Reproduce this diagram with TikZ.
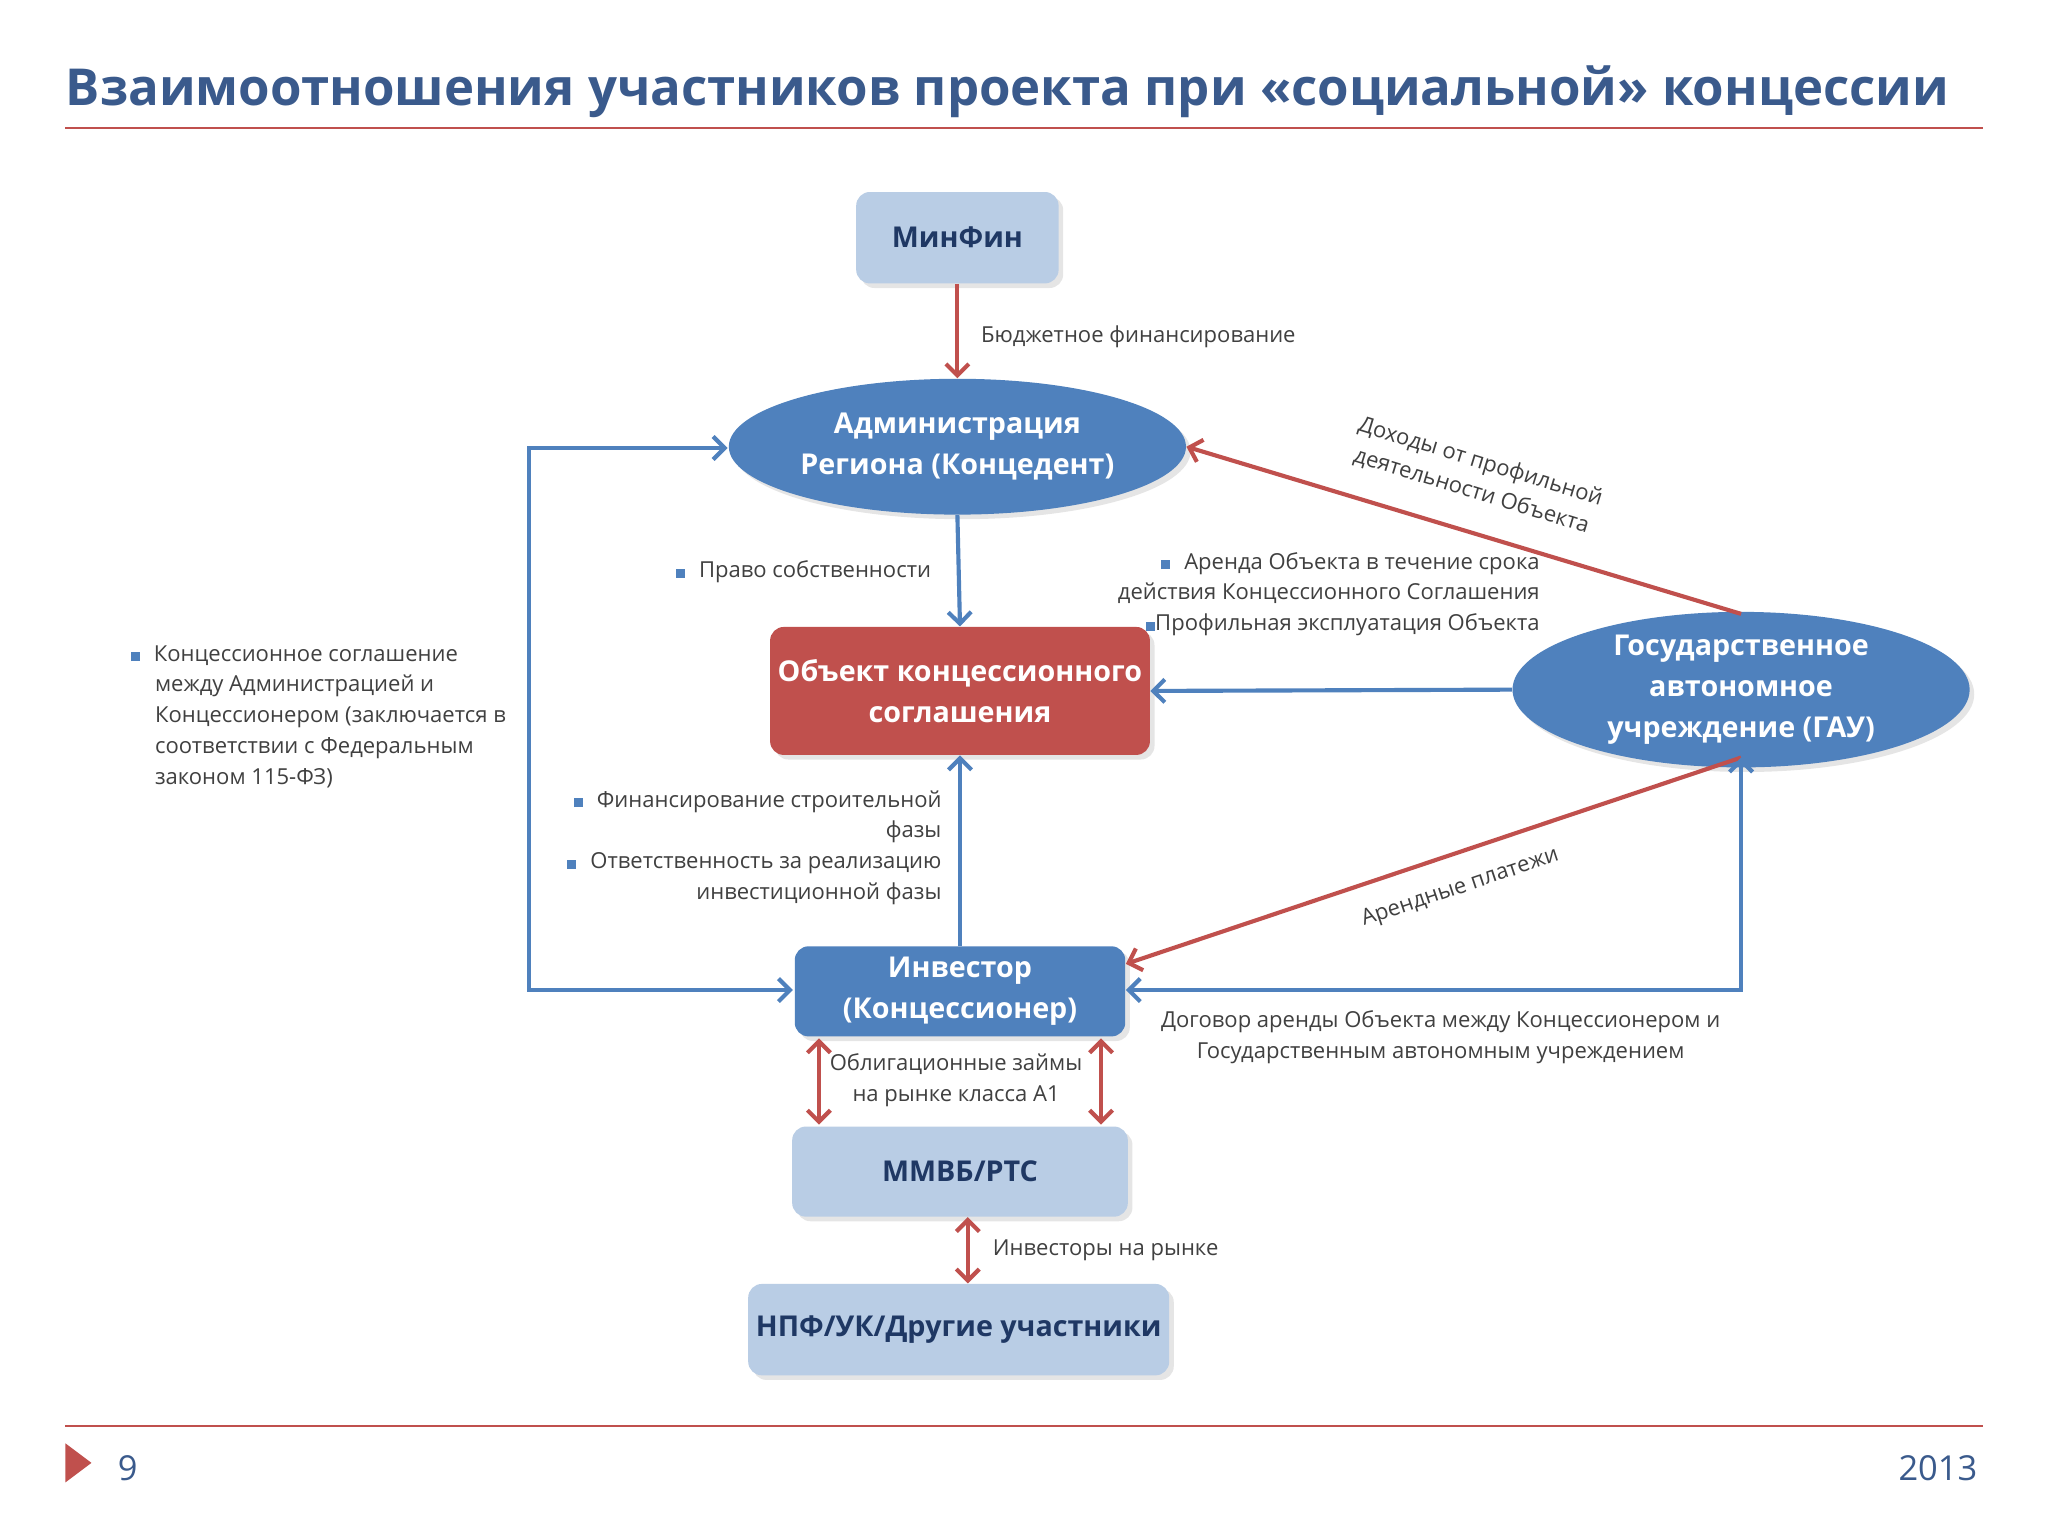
\documentclass[tikz,border=0pt]{standalone}
\usepackage{fontspec}
\setmainfont{Open Sans}
\usetikzlibrary{shapes.geometric,shadows,arrows.meta}
\definecolor{tblue}{HTML}{3A5A8C}
\definecolor{dblue}{HTML}{1F3864}
\definecolor{lblue}{HTML}{B9CDE5}
\definecolor{mblue}{HTML}{4F81BD}
\definecolor{rred}{HTML}{C0504D}
\definecolor{txt}{HTML}{404040}
\newcommand{\bul}{{\color{mblue}\rule{0.75ex}{0.75ex}}\hspace{1.2ex}}
\tikzset{
 shad/.style={drop shadow={opacity=0.2,shadow xshift=2pt,shadow yshift=-2pt}},
 lbox/.style={rectangle,rounded corners=6pt,fill=lblue,text=dblue,font=\fontsize{12.5}{15}\selectfont\bfseries,shad},
 dbox/.style={rectangle,rounded corners=6pt,fill=mblue,text=white,font=\fontsize{12.5}{18}\selectfont\bfseries,align=center,shad},
 ell/.style={ellipse,fill=mblue,text=white,font=\fontsize{12.5}{18}\selectfont\bfseries,align=center,shad,inner sep=0pt},
 lab/.style={font=\fontsize{9.6}{13.4}\selectfont,text=txt},
 rarr/.style={draw=rred,line width=1.8pt,-{Straight Barb[length=5pt,width=10pt]}},
 rdarr/.style={draw=rred,line width=1.8pt,{Straight Barb[length=5pt,width=10pt]}-{Straight Barb[length=5pt,width=10pt]}},
 barr/.style={draw=mblue,line width=1.8pt,-{Straight Barb[length=5pt,width=10pt]}},
 bdarr/.style={draw=mblue,line width=1.8pt,{Straight Barb[length=5pt,width=10pt]}-{Straight Barb[length=5pt,width=10pt]}},
}
\begin{document}
\begin{tikzpicture}[x=0.02cm,y=-0.02cm]
\useasboundingbox[fill=white] (0,0) rectangle (1568,1176);
\node[anchor=west,text=tblue,font=\fontsize{22.2}{27}\selectfont\bfseries,inner sep=0] (title) at (50,70) {Взаимоотношения участников проекта при «социальной» концессии};
\draw[rred,line width=0.8pt] (50,98) -- (1518,98);
% nodes
\node[lbox,minimum width=155*0.02cm,minimum height=70*0.02cm] (mf) at (733,182) {МинФин};
\node[ell,minimum width=350*0.02cm,minimum height=104*0.02cm] (adm) at (733,342) {Администрация\\Региона (Концедент)};
\node[dbox,fill=rred,minimum width=284*0.02cm,minimum height=98*0.02cm] (obj) at (735,529) {Объект концессионного\\соглашения};
\node[ell,minimum width=350*0.02cm,minimum height=110*0.02cm] (gau) at (1333,528) {Государственное\\автономное\\учреждение (ГАУ)};
\node[dbox,minimum width=253*0.02cm,minimum height=69*0.02cm] (inv) at (735,759) {Инвестор\\(Концессионер)};
\node[lbox,minimum width=257*0.02cm,minimum height=69*0.02cm] (mm) at (735,897) {ММВБ/РТС};
\node[lbox,minimum width=312*0.02cm,minimum height=70*0.02cm] (npf) at (734,1018) {НПФ/УК/Другие участники};
% arrows
\draw[rarr] (mf.south) -- (adm.north);
\node[lab,anchor=west] (l1) at (745,258) {Бюджетное финансирование};
\draw[barr] (adm.south) -- (obj.north);
\node[lab,anchor=east] (l2) at (719,438) {\bul Право собственности};
\draw[barr] (gau.west) -- (obj.east);
\node[lab,anchor=south east,align=right] (l3) at (1185,493) {\bul Аренда Объекта в течение срока\\действия Концессионного Соглашения\\{\color{mblue}\rule{0.75ex}{0.75ex}}Профильная эксплуатация Объекта};
\coordinate (gt) at (1333,470);
\draw[rarr] (gt) -- (adm.east);
\node[lab,align=center,rotate=-17] (l4) at (1130,365) {Доходы от профильной\\деятельности Объекта};
\draw[barr] (inv.north) -- (obj.south);
\node[lab,anchor=east,align=right] (l5) at (727,649) {\bul Финансирование строительной\\фазы\\\bul Ответственность за реализацию\\инвестиционной фазы};
\coordinate (gb) at (1333,580);
\draw[rarr] (gb) -- (862,738);
\node[lab,rotate=18.5] (l6) at (1118,680) {Арендные платежи};
\coordinate (ie) at (862,758);
\draw[bdarr] (ie) -- (1333,758) -- (gb);
\node[lab,align=center] (l7) at (1103,794) {Договор аренды Объекта между Концессионером и\\Государственным автономным учреждением};
\coordinate (la) at (557,343);
\coordinate (li) at (607,758);
\draw[bdarr] (la) -- (405,343) -- (405,758) -- (li);
\node[lab,anchor=north west,align=left] (l8) at (94,488) {\bul Концессионное соглашение\\\hspace*{2.05ex}между Администрацией и\\\hspace*{2.05ex}Концессионером (заключается в\\\hspace*{2.05ex}соответствии с Федеральным\\\hspace*{2.05ex}законом 115-ФЗ)};
\coordinate (a1) at (627,795); \coordinate (a2) at (627,861);
\coordinate (b1) at (843,795); \coordinate (b2) at (843,861);
\draw[rdarr] (a1) -- (a2);
\draw[rdarr] (b1) -- (b2);
\node[lab,align=center] (l9) at (732,827) {Облигационные займы\\на рынке класса А1};
\draw[rdarr] (mm.south -| 741,0) -- (npf.north -| 741,0);
\node[lab,anchor=west] (l10) at (754,957) {Инвесторы на рынке};
% footer
\draw[rred,line width=0.8pt] (50,1092) -- (1518,1092);
\fill[rred] (50,1105) -- (70,1120) -- (50,1135) -- cycle;
\node[anchor=west,text=tblue,font=\fontsize{15}{18}\selectfont] (pg) at (84,1124) {9};
\node[anchor=east,text=tblue,font=\fontsize{15}{18}\selectfont] (yr) at (1520,1124) {2013};
\end{tikzpicture}
\end{document}
